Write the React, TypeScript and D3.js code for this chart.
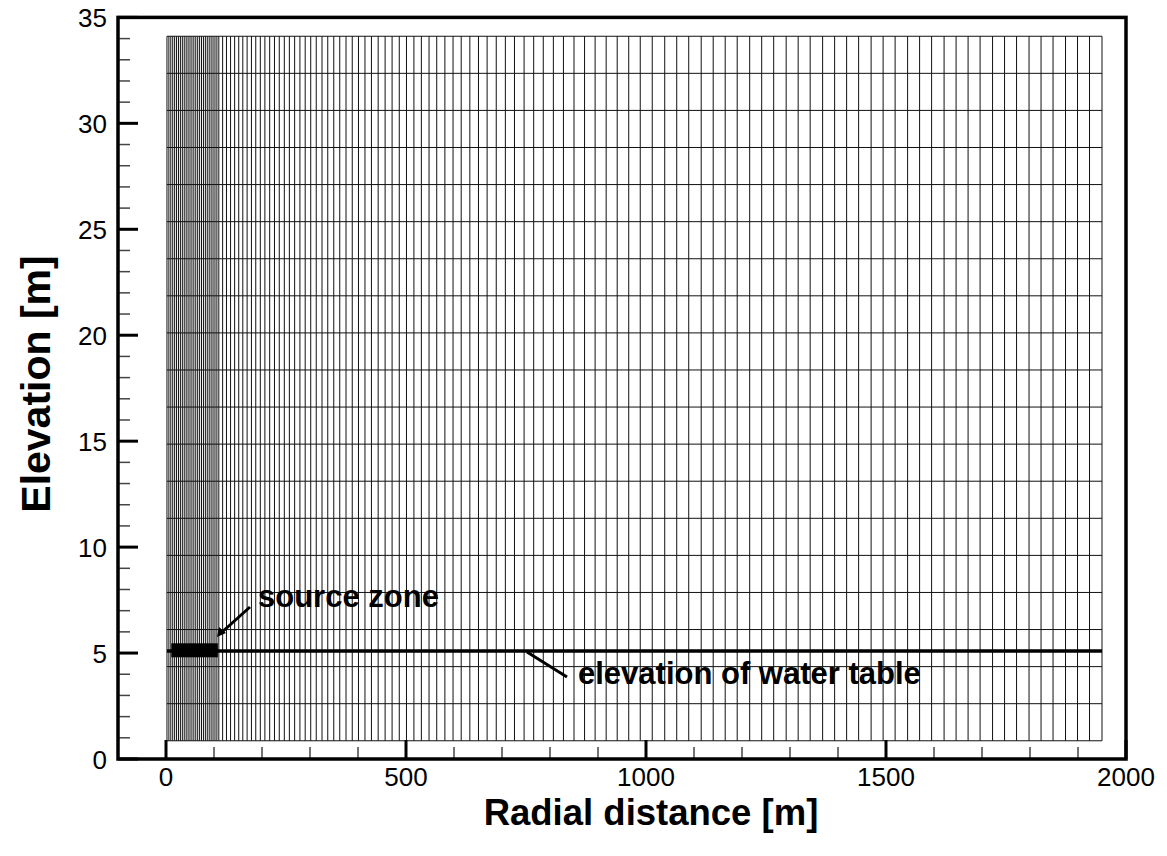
import { useEffect, useRef } from "react";
import * as d3 from "d3";

// mesh columns (radial distance, m)
const meshR = [
  2, 6, 10, 14, 18, 22, 26, 30, 34, 38, 42, 46, 50, 54, 58, 62, 66, 70, 74, 78,
  82, 86, 90, 94, 98, 102, 106, 110, 118, 126, 134.5, 143, 151.5, 160, 169, 178,
  187, 196.5, 206, 216, 226, 236, 246.5, 257, 268, 279, 290, 301.5, 313, 325,
  337, 349.5, 362, 375, 388, 401, 414.5, 428, 442, 456.5, 471, 486, 501, 516.5,
  532, 548, 564, 581, 598, 615, 633, 651, 669, 688, 707, 726, 746, 766, 786,
  807, 828, 850, 872, 894, 917, 940, 964, 988, 1013, 1039, 1064, 1089, 1115,
  1140, 1165, 1190, 1216, 1241, 1266, 1292, 1317, 1342, 1368, 1393, 1418, 1443,
  1469, 1494, 1519, 1545, 1570, 1595, 1621, 1646, 1671, 1696, 1722, 1747, 1772,
  1798, 1823, 1848, 1874, 1899, 1924, 1950,
];

// mesh rows (elevation, m)
const meshZ = [
  0.86, 2.61, 4.36, 6.11, 7.86, 9.61, 11.36, 13.11, 14.86, 16.61, 18.36, 20.11,
  21.86, 23.61, 25.36, 27.11, 28.86, 30.61, 32.36, 34.11,
];

const waterTable = { r0: 2, r1: 1950, z: 5.1 };
const sourceZone = { r0: 11, r1: 108, z0: 4.8, z1: 5.46 };

const xMajor = [0, 500, 1000, 1500, 2000];
const yMajor = [0, 5, 10, 15, 20, 25, 30, 35];

export default function App() {
  const svgRef = useRef<SVGSVGElement | null>(null);
  const width = 1167;
  const height = 856;

  useEffect(() => {
    if (!svgRef.current) return;
    const svg = d3.select(svgRef.current);
    svg.selectAll("*").remove();

    const x = d3.scaleLinear().domain([-100, 2000]).range([118, 1126]);
    const y = d3.scaleLinear().domain([0, 35]).range([759, 17.4]);
    const font = "'Liberation Sans', Arial, Helvetica, sans-serif";

    const zTop = meshZ[meshZ.length - 1];
    const zBot = meshZ[0];
    const rLeft = meshR[0];
    const rRight = meshR[meshR.length - 1];

    // mesh
    const mesh = svg.append("g").attr("stroke", "#111").attr("stroke-width", 1);
    mesh
      .selectAll("line.v")
      .data(meshR)
      .join("line")
      .attr("class", "v")
      .attr("x1", (d) => x(d))
      .attr("x2", (d) => x(d))
      .attr("y1", y(zBot))
      .attr("y2", y(zTop));
    mesh
      .selectAll("line.h")
      .data(meshZ)
      .join("line")
      .attr("class", "h")
      .attr("x1", x(rLeft))
      .attr("x2", x(rRight))
      .attr("y1", (d) => y(d))
      .attr("y2", (d) => y(d));

    // water table
    svg
      .append("line")
      .attr("x1", x(waterTable.r0))
      .attr("x2", x(waterTable.r1))
      .attr("y1", y(waterTable.z))
      .attr("y2", y(waterTable.z))
      .attr("stroke", "#000")
      .attr("stroke-width", 3.5);

    // source zone
    svg
      .append("rect")
      .attr("x", x(sourceZone.r0))
      .attr("y", y(sourceZone.z1))
      .attr("width", x(sourceZone.r1) - x(sourceZone.r0))
      .attr("height", y(sourceZone.z0) - y(sourceZone.z1))
      .attr("fill", "#000");

    // ticks
    const tk = svg.append("g").attr("stroke", "#000");
    const xMinor = d3.range(-100, 2001, 100).filter((d) => d % 500 !== 0);
    const yMinor = d3.range(0, 36, 1).filter((d) => d % 5 !== 0);
    tk.selectAll("line.xm")
      .data(xMinor)
      .join("line")
      .attr("class", "xm")
      .attr("x1", (d) => x(d))
      .attr("x2", (d) => x(d))
      .attr("y1", 759)
      .attr("y2", 747)
      .attr("stroke-width", 1.5)
      .attr("stroke", "#444");
    tk.selectAll("line.xM")
      .data(xMajor)
      .join("line")
      .attr("class", "xM")
      .attr("x1", (d) => x(d))
      .attr("x2", (d) => x(d))
      .attr("y1", 759)
      .attr("y2", 740)
      .attr("stroke-width", 3);
    tk.selectAll("line.ym")
      .data(yMinor)
      .join("line")
      .attr("class", "ym")
      .attr("x1", 118)
      .attr("x2", 130)
      .attr("y1", (d) => y(d))
      .attr("y2", (d) => y(d))
      .attr("stroke-width", 1.5)
      .attr("stroke", "#444");
    tk.selectAll("line.yM")
      .data(yMajor)
      .join("line")
      .attr("class", "yM")
      .attr("x1", 118)
      .attr("x2", 138)
      .attr("y1", (d) => y(d))
      .attr("y2", (d) => y(d))
      .attr("stroke-width", 3);

    // frame
    svg
      .append("rect")
      .attr("x", 118)
      .attr("y", 17.4)
      .attr("width", 1126 - 118)
      .attr("height", 759 - 17.4)
      .attr("fill", "none")
      .attr("stroke", "#000")
      .attr("stroke-width", 3.5);

    // tick labels
    svg
      .append("g")
      .selectAll("text")
      .data(xMajor)
      .join("text")
      .attr("x", (d) => x(d))
      .attr("y", 786)
      .attr("text-anchor", "middle")
      .attr("font-family", font)
      .attr("font-size", 26)
      .text((d) => d);
    svg
      .append("g")
      .selectAll("text")
      .data(yMajor)
      .join("text")
      .attr("x", 107)
      .attr("y", (d) => y(d) + 9.5)
      .attr("text-anchor", "end")
      .attr("font-family", font)
      .attr("font-size", 26)
      .text((d) => d);

    // axis titles
    svg
      .append("text")
      .attr("x", 651)
      .attr("y", 825)
      .attr("text-anchor", "middle")
      .attr("font-family", font)
      .attr("font-weight", "bold")
      .attr("font-size", 36.5)
      .text("Radial distance [m]");
    svg
      .append("text")
      .attr("transform", `translate(50, 384) rotate(-90)`)
      .attr("text-anchor", "middle")
      .attr("font-family", font)
      .attr("font-weight", "bold")
      .attr("font-size", 41)
      .text("Elevation [m]");

    // annotations
    svg
      .append("line")
      .attr("x1", 250)
      .attr("y1", 607)
      .attr("x2", 221)
      .attr("y2", 633)
      .attr("stroke", "#000")
      .attr("stroke-width", 3);
    svg
      .append("path")
      .attr("d", "M217,637 L219,627 L226,633 Z")
      .attr("fill", "#000");
    svg
      .append("text")
      .attr("x", 258)
      .attr("y", 607)
      .attr("font-family", font)
      .attr("font-weight", "bold")
      .attr("font-size", 31)
      .text("source zone");

    svg
      .append("line")
      .attr("x1", 527)
      .attr("y1", 652)
      .attr("x2", 567)
      .attr("y2", 677)
      .attr("stroke", "#000")
      .attr("stroke-width", 3);
    svg
      .append("text")
      .attr("x", 578)
      .attr("y", 684)
      .attr("font-family", font)
      .attr("font-weight", "bold")
      .attr("font-size", 31)
      .text("elevation of water table");
  }, []);

  return (
    <svg
      ref={svgRef}
      width={width}
      height={height}
      style={{ position: "absolute", left: 0, top: 0, background: "#fff" }}
    />
  );
}
